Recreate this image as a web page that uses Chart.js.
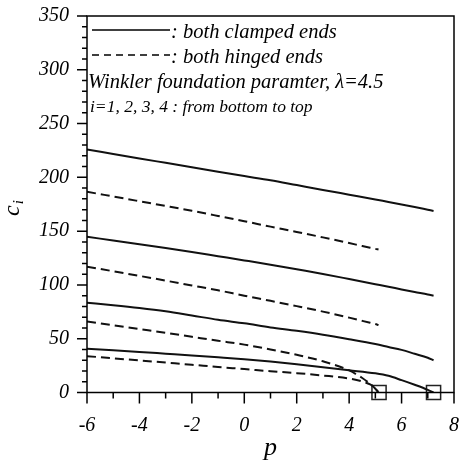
<!DOCTYPE html>
<html>
<head>
<meta charset="utf-8">
<script src="https://cdn.jsdelivr.net/npm/chart.js@4"></script>
<style>
    body { margin: 0; background: #fff; }
</style>
</head>
<body>
<canvas id="myChart" width="461" height="467"></canvas>
<script>
// clamped ends (solid), i = 1..4
const pClamped = [-6, -5, -4, -3, -2, -1, 0, 1, 2, 3, 4, 5, 5.5, 6, 6.5, 7, 7.22]
const clamped1 = [40.6, 39.2, 37.7, 36.1, 34.5, 32.8, 31.0, 28.8, 26.3, 23.5, 20.7, 17.8, 15.5, 11.5, 7.2, 2.5, 0]
const clamped2 = [83.5, 81.2, 78.6, 75.5, 71.6, 67.6, 64.3, 60.5, 57.3, 53.7, 49.5, 45.0, 42.3, 39.6, 36.0, 32.3, 30.0]
const clamped3 = [144.8, 141.3, 137.8, 134.3, 130.6, 126.7, 122.8, 118.8, 114.5, 110.2, 105.5, 100.7, 98.3, 95.8, 93.4, 91.2, 90.0]
const clamped4 = [226.0, 221.8, 217.6, 213.5, 209.4, 205.2, 201.2, 197.3, 192.8, 188.3, 183.9, 179.5, 177.1, 174.8, 172.4, 169.9, 168.8]

// hinged ends (dashed), i = 1..4
const pHinged = [-6, -5, -4, -3, -2, -1, 0, 1, 2, 3, 4, 4.5, 4.8, 5, 5.12]
const hinged1 = [33.8, 31.8, 29.8, 27.8, 25.8, 23.7, 21.8, 19.8, 18.0, 15.8, 13.0, 10.3, 7.5, 4.0, 0]
const hinged2 = [66.0, 62.5, 59.0, 55.5, 51.8, 48.1, 44.5, 40.0, 35.0, 29.0, 20.5, 13.5, 8.0, 3.5, 0]
const hinged3 = [117.0, 112.7, 108.4, 104.0, 99.5, 95.0, 90.0, 85.2, 80.3, 75.2, 69.6, 66.6, 64.8, 63.6, 62.7]
const hinged4 = [186.6, 182.2, 177.8, 173.4, 168.9, 164.1, 159.2, 154.2, 149.3, 144.2, 138.9, 136.2, 134.6, 133.5, 132.9]

// square markers where the first mode reaches zero
const endP = [5.14, 7.22]
const endC = [0, 0]

const xTicks = [-6, -4, -2, 0, 2, 4, 6, 8]
const yTicks = [0, 50, 100, 150, 200, 250, 300, 350]

const legendTexts = [": both clamped ends", ": both hinged ends"]
const noteTexts = ["Winkler foundation paramter, \u03bb=4.5", "i=1, 2, 3, 4 : from bottom to top"]

const serif = "'Liberation Serif', 'Times New Roman', serif"

function toPoints(xs, ys) {
    return xs.map((v, i) => ({ x: v, y: ys[i] }))
}

function curve(xs, ys, dashed) {
    return {
        data: toPoints(xs, ys),
        borderColor: "#111",
        borderWidth: 2,
        borderDash: dashed ? [9, 5] : [],
        pointRadius: 0,
        cubicInterpolationMode: "monotone",
        fill: false,
    }
}

// no automatic label overflow padding, the chart area is set by layout.padding
function noPadding(s) {
    s.paddingLeft = 0
    s.paddingRight = 0
    s.paddingTop = 0
    s.paddingBottom = 0
}

const frame = {
    id: "frame",
    afterDraw(chart) {
        const ctx = chart.ctx
        const a = chart.chartArea
        const x = chart.scales.x
        const y = chart.scales.y

        ctx.save()
        ctx.strokeStyle = "#000"
        ctx.lineWidth = 1.5
        ctx.strokeRect(a.left, a.top, a.right - a.left, a.bottom - a.top)

        // outward ticks, major and minor
        ctx.beginPath()
        for (let v = 0; v <= 350; v += 10) {
            const py = y.getPixelForValue(v)
            const len = v % 50 === 0 ? 10 : 5
            ctx.moveTo(a.left - len, py)
            ctx.lineTo(a.left, py)
        }
        for (let v = -6; v <= 8; v += 1) {
            const px = x.getPixelForValue(v)
            const len = v % 2 === 0 ? 11 : 6
            ctx.moveTo(px, a.bottom)
            ctx.lineTo(px, a.bottom + len)
        }
        ctx.stroke()

        // axis titles
        ctx.fillStyle = "#000"
        ctx.textAlign = "center"
        ctx.textBaseline = "alphabetic"
        ctx.font = "italic 26px " + serif
        ctx.fillText("p", (a.left + a.right) / 2, 455)

        ctx.save()
        ctx.translate(19, 216)
        ctx.rotate(-Math.PI / 2)
        ctx.textAlign = "left"
        ctx.font = "italic 24px " + serif
        ctx.fillText("c", 0, 0)
        const cw = ctx.measureText("c").width
        ctx.font = "italic 15px " + serif
        ctx.fillText("i", cw + 1, 4)
        ctx.restore()

        // legend lines
        ctx.lineWidth = 1.5
        ctx.beginPath()
        ctx.moveTo(92, 30)
        ctx.lineTo(170, 30)
        ctx.stroke()
        ctx.setLineDash([7, 5])
        ctx.beginPath()
        ctx.moveTo(92, 55)
        ctx.lineTo(170, 55)
        ctx.stroke()
        ctx.setLineDash([])

        ctx.textAlign = "left"
        ctx.font = "italic 20.5px " + serif
        ctx.fillText(legendTexts[0], 171, 38)
        ctx.fillText(legendTexts[1], 171, 63)
        ctx.fillText(noteTexts[0], 88, 88)
        ctx.font = "italic 17.5px " + serif
        ctx.fillText(noteTexts[1], 90, 112)
        ctx.restore()
    },
}

function main() {
    const ctx = document.getElementById("myChart")

    new Chart(ctx, {
        type: "line",
        data: {
            datasets: [
                curve(pClamped, clamped1, false),
                curve(pClamped, clamped2, false),
                curve(pClamped, clamped3, false),
                curve(pClamped, clamped4, false),
                curve(pHinged, hinged1, true),
                curve(pHinged, hinged2, true),
                curve(pHinged, hinged3, true),
                curve(pHinged, hinged4, true),
                {
                    data: toPoints(endP, endC),
                    showLine: false,
                    pointStyle: "rect",
                    pointRadius: 10,
                    pointBorderWidth: 1.5,
                    pointBorderColor: "#222",
                    pointBackgroundColor: "rgba(0,0,0,0)",
                    clip: false,
                },
            ],
        },
        options: {
            responsive: false,
            animation: false,
            layout: { autoPadding: false, padding: { left: 0, right: 7, top: 16, bottom: 0 } },
            plugins: {
                legend: { display: false },
                tooltip: { enabled: false },
            },
            scales: {
                x: {
                    type: "linear",
                    min: -6,
                    max: 8,
                    afterBuildTicks: s => { s.ticks = xTicks.map(v => ({ value: v })) },
                    afterFit: s => { s.height = 74.5; noPadding(s) },
                    grid: { display: false, drawTicks: false },
                    border: { display: false },
                    ticks: {
                        padding: 21,
                        color: "#000",
                        font: { family: serif, size: 20, style: "italic" },
                    },
                },
                y: {
                    type: "linear",
                    min: 0,
                    max: 350,
                    afterBuildTicks: s => { s.ticks = yTicks.map(v => ({ value: v })) },
                    afterFit: s => { s.width = 87; noPadding(s) },
                    grid: { display: false, drawTicks: false },
                    border: { display: false },
                    ticks: {
                        padding: 18,
                        color: "#000",
                        font: { family: serif, size: 20, style: "italic" },
                    },
                },
            },
        },
        plugins: [frame],
    })
}

document.addEventListener("DOMContentLoaded", main)
</script>
</body>
</html>
